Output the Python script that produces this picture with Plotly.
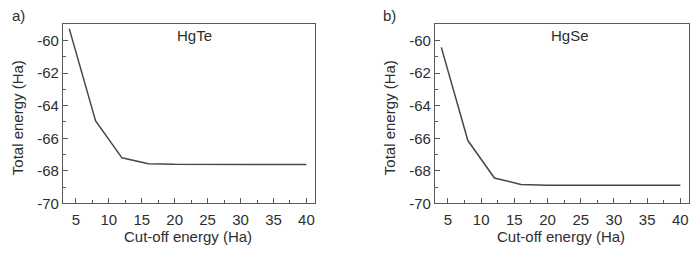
import plotly.graph_objects as go

cutoff = [4, 8, 12, 16, 20, 24, 28, 32, 36, 40]
hgte_energy = [-59.27, -64.93, -67.20, -67.56, -67.60, -67.61, -67.61, -67.61, -67.61, -67.61]
hgse_energy = [-60.42, -66.14, -68.44, -68.84, -68.88, -68.89, -68.89, -68.89, -68.89, -68.89]
panel_labels = ["a)", "b)"]
materials = ["HgTe", "HgSe"]
x_ticks = [5, 10, 15, 20, 25, 30, 35, 40]
y_ticks = [-70, -68, -66, -64, -62, -60]
y_tick_text = ["-70", "-68", "-66", "-64", "-62", "-60"]

W, H = 696, 256
FONT = "Liberation Sans, Arial, sans-serif"
LINE = "#474747"
FRAME = "#5a5a5a"
TXT = "#2e2e2e"
FS = 15

fig = go.Figure()

panels = [
    dict(x0=63, x1=315, xa="x", ya="y", y=hgte_energy, lab_dx=132),
    dict(x0=435, x1=689, xa="x2", ya="y2", y=hgse_energy, lab_dx=135),
]
top_px, bot_px = 25, 210

for i, p in enumerate(panels):
    fig.add_trace(go.Scatter(x=cutoff, y=p["y"], mode="lines",
                             line=dict(color=LINE, width=1.5),
                             xaxis=p["xa"], yaxis=p["ya"], showlegend=False,
                             hoverinfo="skip"))
    sfx = "" if i == 0 else "2"
    axis_common = dict(showline=True, linecolor=FRAME, linewidth=1.3, mirror=True,
                       ticks="inside", ticklen=5, tickwidth=1, tickcolor=FRAME,
                       showgrid=False, zeroline=False,
                       tickfont=dict(family=FONT, size=FS, color=TXT))
    fig.update_layout(**{
        "xaxis" + sfx: dict(domain=[p["x0"] / W, p["x1"] / W], range=[3.05, 41.3],
                            tickvals=x_ticks, anchor="y" + sfx, ticklabelstandoff=2,
                            minor=dict(ticks="inside", ticklen=3, dtick=2.5, tick0=0,
                                       tickcolor=FRAME, showgrid=False),
                            **axis_common),
        "yaxis" + sfx: dict(domain=[1 - bot_px / H, 1 - top_px / H], range=[-70, -59],
                            tickvals=y_ticks, ticktext=y_tick_text, anchor="x" + sfx,
                            minor=dict(ticks="inside", ticklen=3, dtick=1, tick0=0,
                                       tickcolor=FRAME, showgrid=False),
                            **axis_common),
    })
    cx = (p["x0"] + p["x1"]) / 2
    common = dict(xref="paper", yref="paper", showarrow=False,
                  xanchor="center", yanchor="middle")
    fig.add_annotation(x=(p["x0"] + p["lab_dx"]) / W, y=1 - 37 / H,
                       text=materials[i], font=dict(family=FONT, size=FS, color=TXT), **common)
    fig.add_annotation(x=(p["x0"] - 45) / W, y=1 - 16 / H,
                       text=panel_labels[i], font=dict(family=FONT, size=FS, color=TXT), **common)
    fig.add_annotation(x=(cx - 1) / W, y=1 - 244 / H,
                       text="Cut-off energy (Ha)", font=dict(family=FONT, size=FS, color=TXT), **common)
    fig.add_annotation(x=(p["x0"] - 46) / W, y=1 - 122 / H, textangle=-90,
                       text="Total energy (Ha)", font=dict(family=FONT, size=FS, color=TXT), **common)

fig.update_layout(width=W, height=H, margin=dict(l=0, r=0, t=0, b=0),
                  paper_bgcolor="white", plot_bgcolor="white")

fig.write_html("out.html", config={"displayModeBar": False},
               post_script="document.body.style.margin='0';document.body.style.padding='0';")
